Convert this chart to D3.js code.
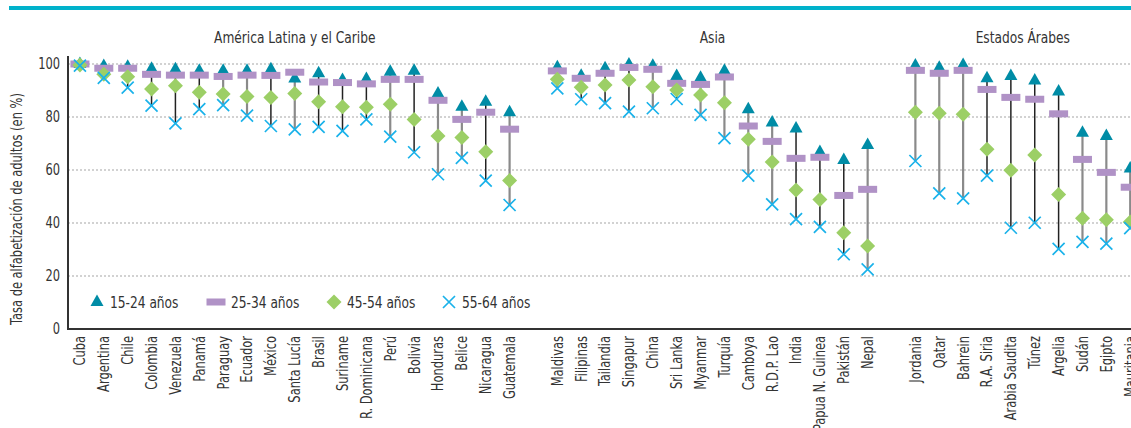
<!DOCTYPE html>
<html>
<head>
<meta charset="utf-8">
<script src="https://cdn.jsdelivr.net/npm/d3@7"></script>
<style>
  body { margin: 0; background: #fff; }
  svg text { font-family: "DejaVu Sans Condensed", "DejaVu Sans", sans-serif; font-stretch: condensed; fill: #333; }
</style>
</head>
<body>
<div id="chart"></div>
<script>
// countries by region (order as in the chart)
const latinCountries = ["Cuba","Argentina","Chile","Colombia","Venezuela","Panamá","Paraguay","Ecuador","México","Santa Lucía","Brasil","Suriname","R. Dominicana","Perú","Bolivia","Honduras","Belice","Nicaragua","Guatemala"];
const asiaCountries = ["Maldivas","Filipinas","Tailandia","Singapur","China","Sri Lanka","Myanmar","Turquía","Camboya","R.D.P. Lao","India","Papua N. Guinea","Pakistán","Nepal"];
const arabCountries = ["Jordania","Qatar","Bahrein","R.A. Siria","Arabia Saudita","Túnez","Argelia","Sudán","Egipto","Mauritania"];
const regionNames = ["América Latina y el Caribe","Asia","Estados Árabes"];

// literacy rate (%) per age group, same order as the countries above
const age15_24 = [100,99.2,99,98.2,98,97.5,97.5,97.5,98,94.5,96.5,94,94.3,97.1,97.5,88.9,83.9,85.8,81.8,
  98.8,95.6,98.4,99.8,99.3,95.5,94.8,97.5,82.9,77.9,75.7,66.8,63.8,69.4,
  99.4,98.6,99.6,94.6,95.5,93.8,89.6,74.1,72.8,60.6];
const age25_34 = [100,98.4,98.4,96.1,95.8,95.8,95.3,95.8,95.7,96.9,93.2,93,92.5,94.2,94.2,86.3,79.1,81.8,75.4,
  97.4,94.6,96.5,98.7,98,92.7,92.3,95.1,76.6,70.8,64.4,64.8,50.4,52.7,
  97.6,96.5,97.6,90.4,87.4,86.7,81.2,64,59.1,53.5];
const age45_54 = [99.6,96.1,95.2,90.6,91.8,89.3,88.7,87.7,87.4,88.9,85.8,83.9,83.7,84.8,79.1,72.8,72.3,66.9,56,
  94.2,91.2,92.1,94,91.4,90.2,88.3,85.4,71.6,63,52.5,48.9,36.3,31.3,
  81.8,81.4,81,67.8,59.9,65.7,50.8,41.8,41.2,40.4];
const age55_64 = [99.4,94.8,91.1,84.3,77.6,83,84.5,80.5,76.6,75.3,76.3,74.8,79.1,72.6,66.7,58.4,64.6,56,46.8,
  90.8,86.7,85.2,82,83.3,86.8,80.8,72,57.9,47,41.5,38.5,28.2,22.5,
  63.4,51.2,49.3,57.9,38.2,40.1,30.2,32.9,32.2,38.1];

// countries whose stem is drawn dark
const darkStems = ["Cuba","Argentina","Chile","Colombia","Venezuela","Panamá","México","Brasil","Suriname","R. Dominicana","Bolivia","Nicaragua",
  "Filipinas","Tailandia","Singapur","Sri Lanka","India","Papua N. Guinea","Pakistán","R.A. Siria","Arabia Saudita","Túnez","Argelia"];

const yTicks = [0,20,40,60,80,100];
const seriesLabels = ["15-24 años","25-34 años","45-54 años","55-64 años"];

const W = 1131, H = 428;
const narrow = 0.85; // horizontal squeeze to mimic the condensed face
const svg = d3.select("#chart").append("svg")
  .attr("width", W).attr("height", H);

// top rule
svg.append("rect").attr("x", 9).attr("y", 6).attr("width", W - 9).attr("height", 4).attr("fill", "#00b2cb");

const countries = latinCountries.concat(asiaCountries, arabCountries);
const rows = countries.map((c, i) => ({
  country: c, v: [age15_24[i], age25_34[i], age45_54[i], age55_64[i]]
}));

// slots, with one empty slot between regions
const slots = latinCountries.concat(["_g1"], asiaCountries, ["_g2"], arabCountries);
const x = d3.scaleBand().domain(slots).range([68, 68 + slots.length * 23.87]).padding(0);
const y = d3.scaleLinear().domain([0, 100]).range([329, 64]);
const cx = d => x(d) + x.bandwidth() / 2;

// helper: squeezed text placed at a point
function label(parent, px, py, txt, size, anchor, rot) {
  const g = parent.append("g").attr("transform", `translate(${px},${py})` + (rot ? ` rotate(${rot})` : ""));
  return g.append("text")
    .attr("transform", `scale(${narrow},1)`)
    .attr("text-anchor", anchor)
    .style("font-size", size + "px")
    .text(txt);
}

// gridlines
svg.append("g").selectAll("line").data(yTicks.filter(t => t > 0)).join("line")
  .attr("x1", 68).attr("x2", W).attr("y1", d => y(d)).attr("y2", d => y(d))
  .attr("stroke", "#a5a5a5").attr("stroke-width", 1).attr("stroke-dasharray", "2,2");

// y axis
const yAxis = svg.append("g").attr("transform", "translate(68,0)")
  .call(d3.axisLeft(y).tickValues(yTicks).tickSize(0).tickPadding(8));
yAxis.select(".domain").remove();
yAxis.selectAll("text")
  .attr("x", -8 / narrow)
  .attr("transform", `scale(${narrow},1)`)
  .style("font-size", "15px").attr("fill", "#333");
svg.append("line").attr("x1", 68).attr("x2", 68).attr("y1", 56).attr("y2", 330)
  .attr("stroke", "#333").attr("stroke-width", 2);

// x axis
const xAxis = svg.append("g").attr("transform", "translate(0,329)")
  .call(d3.axisBottom(x).tickSize(0).tickFormat(d => d.startsWith("_") ? "" : d));
xAxis.select(".domain").remove();
xAxis.selectAll("text")
  .attr("transform", `rotate(-90) scale(${narrow},1)`)
  .attr("text-anchor", "end")
  .attr("x", -7 / narrow).attr("y", 0).attr("dy", "0.36em")
  .style("font-size", "15px").attr("fill", "#333");
svg.append("line").attr("x1", 67).attr("x2", W).attr("y1", 329).attr("y2", 329)
  .attr("stroke", "#333").attr("stroke-width", 2);

// y label
label(svg, 22, 209, "Tasa de alfabetización de adultos (en %)", 15, "middle", -90);

// region titles
const regionGroups = [latinCountries, asiaCountries, arabCountries];
regionGroups.forEach((grp, i) => {
  const mid = (cx(grp[0]) + cx(grp[grp.length - 1])) / 2;
  label(svg, mid, 43, regionNames[i], 16, "middle", 0);
});

// stems
svg.append("g").selectAll("line").data(rows).join("line")
  .attr("x1", d => cx(d.country)).attr("x2", d => cx(d.country))
  .attr("y1", d => y(d3.max(d.v))).attr("y2", d => y(d3.min(d.v)))
  .attr("stroke", d => darkStems.includes(d.country) ? "#222" : "#8a8a8a")
  .attr("stroke-width", d => darkStems.includes(d.country) ? 1.5 : 2.2);

// marker shapes
const triPath = "M0,-7.5L6.5,4L-6.5,4Z";
const diaPath = "M0,-7.5L7.5,0L0,7.5L-7.5,0Z";
const xPath = "M-6,-6L6,6M-6,6L6,-6";
const colors = ["#008ca6", "#b092c6", "#9ccf66", "#1ab2ea"];

function drawMarker(g, k) {
  if (k === 0) g.append("path").attr("d", triPath).attr("fill", colors[0]);
  if (k === 1) g.append("rect").attr("x", -9.5).attr("y", -3.5).attr("width", 19).attr("height", 7).attr("fill", colors[1]);
  if (k === 2) g.append("path").attr("d", diaPath).attr("fill", colors[2]);
  if (k === 3) g.append("path").attr("d", xPath).attr("fill", "none").attr("stroke", colors[3]).attr("stroke-width", 1.7);
}

[0, 1, 2, 3].forEach(k => {
  svg.append("g").selectAll("g").data(rows).join("g")
    .attr("transform", d => `translate(${cx(d.country)},${y(d.v[k])})`)
    .each(function() { drawMarker(d3.select(this), k); });
});

// legend
const legendX = [97, 216, 334, 449];
const legend = svg.append("g").selectAll("g").data(seriesLabels).join("g")
  .attr("transform", (d, i) => `translate(${legendX[i]},302)`);
legend.each(function(d, i) {
  const g = d3.select(this);
  drawMarker(g, i);
  label(g, i === 1 ? 15 : 13, 0, d, 16, "start", 0).attr("dy", "0.36em");
});
</script>
</body>
</html>
